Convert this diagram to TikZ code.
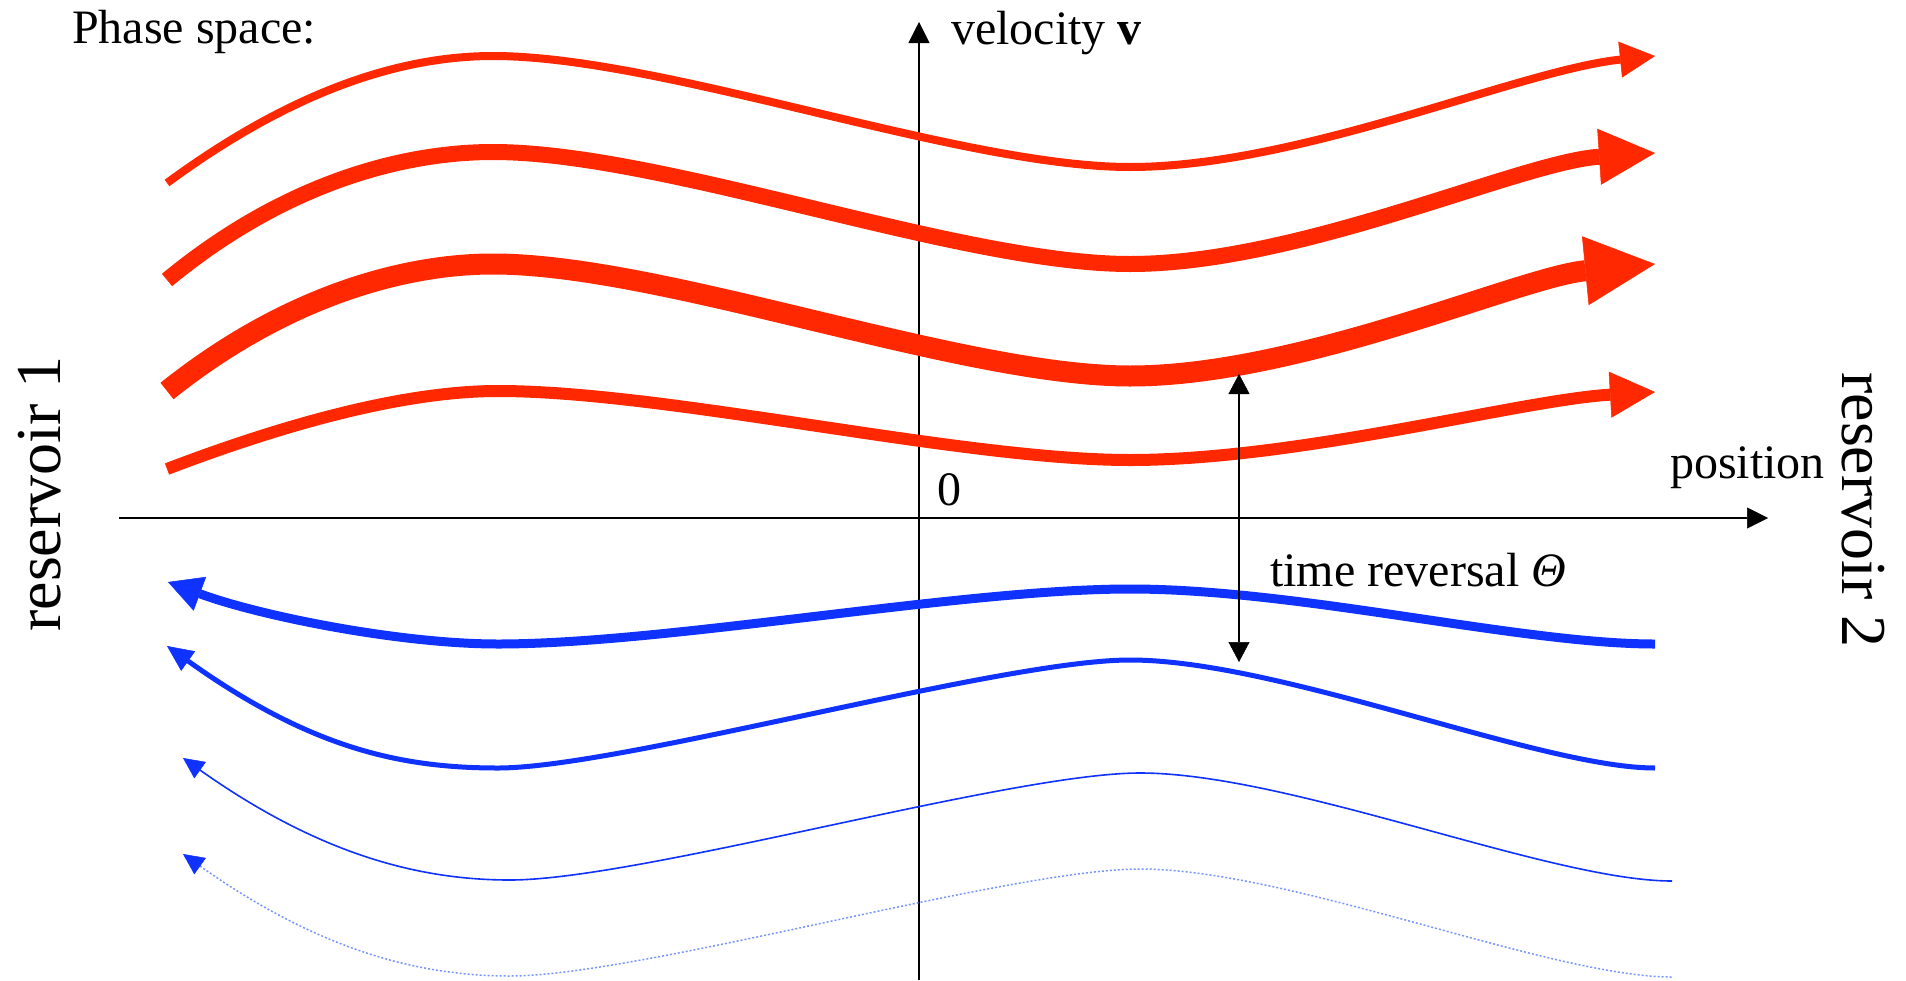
\documentclass[tikz,border=0pt]{standalone}
\usepackage{fontspec}
\setmainfont{Liberation Serif}
\usetikzlibrary{arrows.meta}
\definecolor{pred}{RGB}{255,40,0}
\definecolor{pblue}{RGB}{15,50,255}
\definecolor{plight}{RGB}{120,150,255}
\begin{document}
\begin{tikzpicture}[x=1pt,y=-1pt,
  lbl/.style={inner sep=0pt, font=\fontsize{48}{56}\selectfont},
  res/.style={inner sep=0pt, font=\fontsize{64}{72}\selectfont},
  axisline/.style={line width=2pt},
  redc/.style={pred, line width=#1},
  bluec/.style={pblue, line width=#1},
]
\useasboundingbox (0,0) rectangle (1906,980);

% axes
\coordinate (xs) at (119,518);
\coordinate (xe) at (1768,518);
\coordinate (ys) at (919,980);
\coordinate (ye) at (919,22);
\draw[axisline, -{Triangle[length=21pt,width=21pt,line width=0.5pt]}] (xs) -- (xe);
\draw[axisline, -{Triangle[length=21pt,width=21pt,line width=0.5pt]}] (ys) -- (ye);

% red curves
\draw[redc=8pt, -{Triangle[length=35pt,width=36pt,line width=0.5pt]}]
  (167,183) .. controls (292,91) and (400,56) .. (493,56)
  .. controls (663,56) and (960,167) .. (1130,167)
  .. controls (1300,167) and (1520,70) .. (1655,56);
\draw[redc=16pt, -{Triangle[length=56pt,width=56pt,line width=0.5pt]}]
  (167,280) .. controls (282,185) and (400,152) .. (493,152)
  .. controls (663,152) and (960,264) .. (1130,264)
  .. controls (1300,264) and (1520,162) .. (1655,153);
\draw[redc=21pt, -{Triangle[length=70pt,width=69pt,line width=0.5pt]}]
  (167,391) .. controls (282,299) and (400,264) .. (493,264)
  .. controls (663,264) and (960,376) .. (1130,376)
  .. controls (1300,376) and (1520,277) .. (1655,264);
\draw[redc=12pt, -{Triangle[length=45pt,width=46pt,line width=0.5pt]}]
  (167,469) .. controls (277,427) and (400,391) .. (498,391)
  .. controls (668,391) and (960,460) .. (1130,460)
  .. controls (1300,460) and (1520,400) .. (1655,392);

% blue curves
\draw[bluec=9pt, {Triangle[length=34pt,width=36pt,line width=0.5pt]}-]
  (168,582) .. controls (260,616) and (400,644) .. (498,644)
  .. controls (668,644) and (960,589) .. (1130,589)
  .. controls (1300,589) and (1520,644) .. (1655,644);
\draw[bluec=5pt, {Triangle[length=26pt,width=24pt,line width=0.5pt]}-]
  (167,646) .. controls (310,748) and (400,768) .. (498,768)
  .. controls (620,768) and (1000,660) .. (1130,660)
  .. controls (1280,660) and (1540,768) .. (1655,768);
\draw[bluec=1.6pt, {Triangle[length=21pt,width=20pt,line width=0.5pt]}-]
  (183,758) .. controls (320,855) and (420,880) .. (510,880)
  .. controls (640,880) and (1010,773) .. (1140,773)
  .. controls (1290,773) and (1550,881) .. (1672,881);
\draw[plight, line width=1.5pt, dash pattern=on 2pt off 2pt,
      {Triangle[length=21pt,width=20pt,line width=0.5pt,color=pblue]}-]
  (183,854) .. controls (320,951) and (420,976) .. (510,976)
  .. controls (640,976) and (1010,869) .. (1140,869)
  .. controls (1290,869) and (1550,977) .. (1672,977);

% time reversal arrow
\coordinate (trt) at (1239,374);
\coordinate (trb) at (1239,662);
\draw[axisline, {Triangle[length=20pt,width=21pt,line width=0.5pt]}-{Triangle[length=20pt,width=21pt,line width=0.5pt]}] (trt) -- (trb);

% labels
\node[lbl, anchor=base west] (ps) at (72,43) {Phase space:};
\node[lbl, anchor=base west] (vel) at (951,44) {velocity \textbf{v}};
\node[lbl, anchor=base] (zero) at (949,505) {0};
\node[lbl, anchor=base west] (pos) at (1670,478) {position};
\node[lbl, anchor=base west] (tr) at (1270,586) {time reversal \textit{Θ}};
\node[res, anchor=base, rotate=90] (r1) at (60,494) {reservoir 1};
\node[res, anchor=base, rotate=-90] (r2) at (1842,510) {reservoir 2};
\end{tikzpicture}
\end{document}
